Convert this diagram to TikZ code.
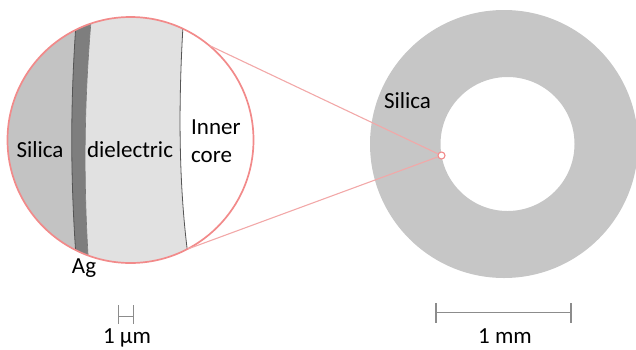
\documentclass[tikz,border=0pt]{standalone}
\usepackage{fontspec}
\setmainfont{Carlito}
\definecolor{ringgray}{HTML}{C6C6C6}
\definecolor{silgray}{HTML}{C3C3C3}
\definecolor{diegray}{HTML}{E1E1E1}
\definecolor{aggray}{HTML}{7E7E7E}
\definecolor{edgegray}{HTML}{555555}
\definecolor{pinkc}{HTML}{F28A8A}
\definecolor{pinkl}{HTML}{F2A8A8}
\definecolor{bargray}{HTML}{8C8C8C}
\begin{document}
\begin{tikzpicture}[x=1pt,y=-1pt,
  lbl/.style={font=\fontsize{23}{27}\selectfont, inner sep=0pt, anchor=base, text=black},
  barline/.style={draw=bargray, line width=1.4pt},
  zoomline/.style={draw=pinkl, line width=1.1pt}]
\useasboundingbox (0,0) rectangle (636,349);
% fibre cross-section
\fill[ringgray, even odd rule] (504,144) circle (134) (507.5,144) circle (67);
% magnified region
\node[circle, minimum size=246pt, inner sep=0pt] (lens) at (130.5,140) {};
\begin{scope}
  \clip (130.5,140) circle (123);
  \fill[silgray] (0,0) rectangle (260,280);
  \fill[aggray] (77,10) .. controls (70,100) and (70,180) .. (77,270)
     -- (89,270) .. controls (83,180) and (84,100) .. (92,10) -- cycle;
  \fill[diegray] (92,10) .. controls (84,100) and (83,180) .. (89,270)
     -- (190,270) .. controls (178,190) and (178,100) .. (184,10) -- cycle;
  \fill[white] (184,10) .. controls (178,100) and (178,190) .. (190,270)
     -- (260,270) -- (260,10) -- cycle;
  \draw[edgegray, line width=0.8pt] (77,10) .. controls (70,100) and (70,180) .. (77,270);
  \draw[edgegray!80, line width=0.6pt] (92,10) .. controls (84,100) and (83,180) .. (89,270);
  \draw[edgegray, line width=0.8pt] (184,10) .. controls (178,100) and (178,190) .. (190,270);
\end{scope}
\node[circle, draw=pinkc, line width=1.7pt, minimum size=246pt, inner sep=0pt] at (lens.center) {};
% zoom spot and connecting lines
\node[circle, draw=pinkc, fill=white, line width=1.1pt, minimum size=7pt, inner sep=0pt] (spot) at (441.5,155.5) {};
\draw[zoomline] (lens.50.8) -- (spot);
\draw[zoomline] (lens.-62.6) -- (spot);
% labels
\node[lbl] (silL) at (40,157) {Silica};
\node[lbl] (diel) at (130,157) {dielectric};
\node[lbl, anchor=base west] (inner) at (191,134) {Inner};
\node[lbl, anchor=base west] (core) at (191,162) {core};
\node[lbl] (ag) at (84,273) {Ag};
\node[lbl] (silR) at (407.5,108) {Silica};
% scale bars
\draw[barline] (118.5,305) -- (118.5,324);
\draw[barline] (133.5,305) -- (133.5,324);
\draw[barline] (118.5,316.5) -- (133.5,316.5);
\node[lbl] (um) at (127,343) {1 µm};
\draw[barline] (436,303) -- (436,323);
\draw[barline] (571,303) -- (571,323);
\draw[barline] (436,312.5) -- (571,312.5);
\node[lbl] (mm) at (505,343) {1 mm};
\end{tikzpicture}
\end{document}
